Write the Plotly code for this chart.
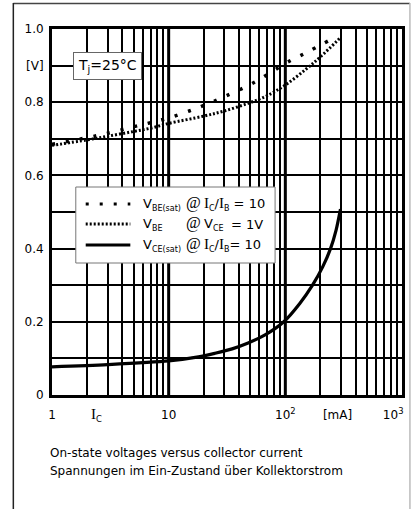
import plotly.graph_objects as go

# ---- data (collector current in mA, voltages in V) ----
ic_vbesat = [1, 2, 3, 5, 7, 10, 15, 20, 30, 50, 70, 100, 150, 235]
v_besat = [0.685, 0.703, 0.715, 0.733, 0.744, 0.757, 0.776, 0.791, 0.815, 0.848, 0.875, 0.906, 0.935, 0.968]

ic_vbe = [1, 2, 3, 5, 7, 10, 20, 30, 50, 70, 100, 150, 200, 300]
v_be = [0.682, 0.697, 0.707, 0.720, 0.729, 0.742, 0.762, 0.776, 0.799, 0.818, 0.847, 0.890, 0.924, 0.978]

ic_vcesat = [1, 3, 10, 18, 25, 35, 48, 67, 97, 133, 171, 209, 244, 272, 297]
v_cesat = [0.077, 0.083, 0.093, 0.104, 0.114, 0.126, 0.142, 0.164, 0.200, 0.250, 0.300, 0.350, 0.400, 0.450, 0.508]

x_tickvals = [1, 2.4, 10, 100, 280, 840]
x_ticktext = ["1", '<span style="font-family:Liberation Serif;font-size:15px">I</span><sub>C</sub>',
              "10", "10<sup>2</sup>", "[mA]", "10<sup>3</sup>"]
y_tickvals = [0, 0.2, 0.4, 0.6, 0.8, 0.9, 1.0]
y_ticktext = ["0", "0.2", "0.4", "0.6", "0.8", "[V]", "1.0"]
decades = [10, 100]
minor_x = [m * 10 ** k for k in range(3) for m in range(2, 10)]

# ---- layout geometry (pixels in the 415x509 window) ----
FW, FH = 415, 509
L, T, R, B = 52, 29, 405, 395
PW, PH = R - L, B - T

def px(x):
    return (x - L) / PW

def py(y):
    return (B - y) / PH

SANS = "DejaVu Sans"
SERIF = "Liberation Serif"

fig = go.Figure()
fig.add_trace(go.Scatter(x=ic_vbesat, y=v_besat, mode="lines", line=dict(color="black", width=3.5, dash="3px,11px"),
                         line_shape="spline", showlegend=False))
fig.add_trace(go.Scatter(x=ic_vbe, y=v_be, mode="lines", line=dict(color="black", width=3, dash="2px,2px"),
                         line_shape="spline", showlegend=False))
fig.add_trace(go.Scatter(x=ic_vcesat, y=v_cesat, mode="lines", line=dict(color="black", width=3.2),
                         line_shape="spline", line_smoothing=0.8, showlegend=False))

shapes = []
for d in decades:
    shapes.append(dict(type="line", xref="x", yref="paper", x0=d, x1=d, y0=0, y1=1,
                       line=dict(color="black", width=3), layer="below"))
# outer frame
shapes.append(dict(type="line", xref="paper", yref="paper", x0=px(13), x1=px(413), y0=py(3.5), y1=py(3.5),
                   line=dict(color="#444", width=1.5)))
shapes.append(dict(type="line", xref="paper", yref="paper", x0=px(13), x1=px(13), y0=py(3), y1=py(512),
                   line=dict(color="#222", width=1.5)))
shapes.append(dict(type="line", xref="paper", yref="paper", x0=px(413), x1=px(413), y0=py(3), y1=py(512),
                   line=dict(color="#bbbbbb", width=1.5)))
# legend box
shapes.append(dict(type="rect", xref="paper", yref="paper", x0=px(76), x1=px(277), y0=py(263), y1=py(187),
                   line=dict(color="#777", width=1), fillcolor="white"))
rows = [204, 224, 245]
dashes = ["3px,11px", "2px,2px", "solid"]
for yy, dsh in zip(rows, dashes):
    shapes.append(dict(type="line", xref="paper", yref="paper", x0=px(86), x1=px(131), y0=py(yy), y1=py(yy),
                       line=dict(color="black", width=3, dash=dsh)))

def I(sub):
    return ('<span style="font-family:%s;font-size:15px">I</span>'
            '<sub><span style="font-size:8px">%s</span></sub>') % (SERIF, sub)

def V(sub):
    return 'V<sub><span style="font-size:8px">%s</span></sub>' % sub

AT = '<span style="font-family:%s">@</span>' % SERIF

ann = []
def add(text, x, y, size=13, xanchor="left", font=SANS):
    ann.append(dict(text=text, xref="paper", yref="paper", x=px(x), y=py(y), xanchor=xanchor, yanchor="middle",
                    showarrow=False, font=dict(family=font, size=size, color="black")))

add(V("BE(sat)"), 142, rows[0])
add(AT, 185, rows[0] - 1, size=16)
add(I("C") + "/" + I("B") + " = 10", 203, rows[0])
add(V("BE"), 142, rows[1])
add(AT, 185, rows[1] - 1, size=16)
add(V("CE"), 203, rows[1])
add("= 1V", 231, rows[1])
add(V("CE(sat)"), 142, rows[2])
add(AT, 185, rows[2] - 1, size=16)
add(I("C") + "/" + I("B") + "= 10", 203, rows[2])

add("On-state voltages versus collector current", 48, 453, size=12)
add("Spannungen im Ein-Zustand über Kollektorstrom", 48, 471, size=12)

ann.append(dict(text="T<sub>j</sub>=25°C", xref="paper", yref="y", x=px(107.5), y=0.9, xanchor="center",
                yanchor="middle", showarrow=False, font=dict(family=SANS, size=14, color="black"),
                bgcolor="white", bordercolor="#666", borderwidth=1, borderpad=4))

fig.update_layout(
    width=FW, height=FH,
    margin=dict(l=L, r=FW - R, t=T, b=FH - B),
    paper_bgcolor="white", plot_bgcolor="white",
    shapes=shapes, annotations=ann,
    font=dict(family=SANS, size=12, color="black"),
    xaxis=dict(type="log", range=[0, 3], tickmode="array", tickvals=x_tickvals, ticktext=x_ticktext,
               showgrid=False, zeroline=False, showline=True, linecolor="black", linewidth=3, mirror=True,
               ticks="", ticklabelstandoff=7, tickfont=dict(family=SANS, size=12),
               minor=dict(tickmode="array", tickvals=minor_x, showgrid=True, gridcolor="black", gridwidth=1.5,
                          ticks="")),
    yaxis=dict(range=[0, 1], tickmode="array", tickvals=y_tickvals, ticktext=y_ticktext,
               showgrid=True, gridcolor="black", gridwidth=1.5, zeroline=False,
               showline=True, linecolor="black", linewidth=3, mirror=True,
               ticks="", ticklabelstandoff=3, tickfont=dict(family=SANS, size=12),
               minor=dict(dtick=0.1, showgrid=True, gridcolor="black", gridwidth=1.5, ticks="")),
)

fig.write_html("out.html", config={"displayModeBar": False},
               post_script="document.body.style.margin='0';document.body.style.overflow='hidden';")
